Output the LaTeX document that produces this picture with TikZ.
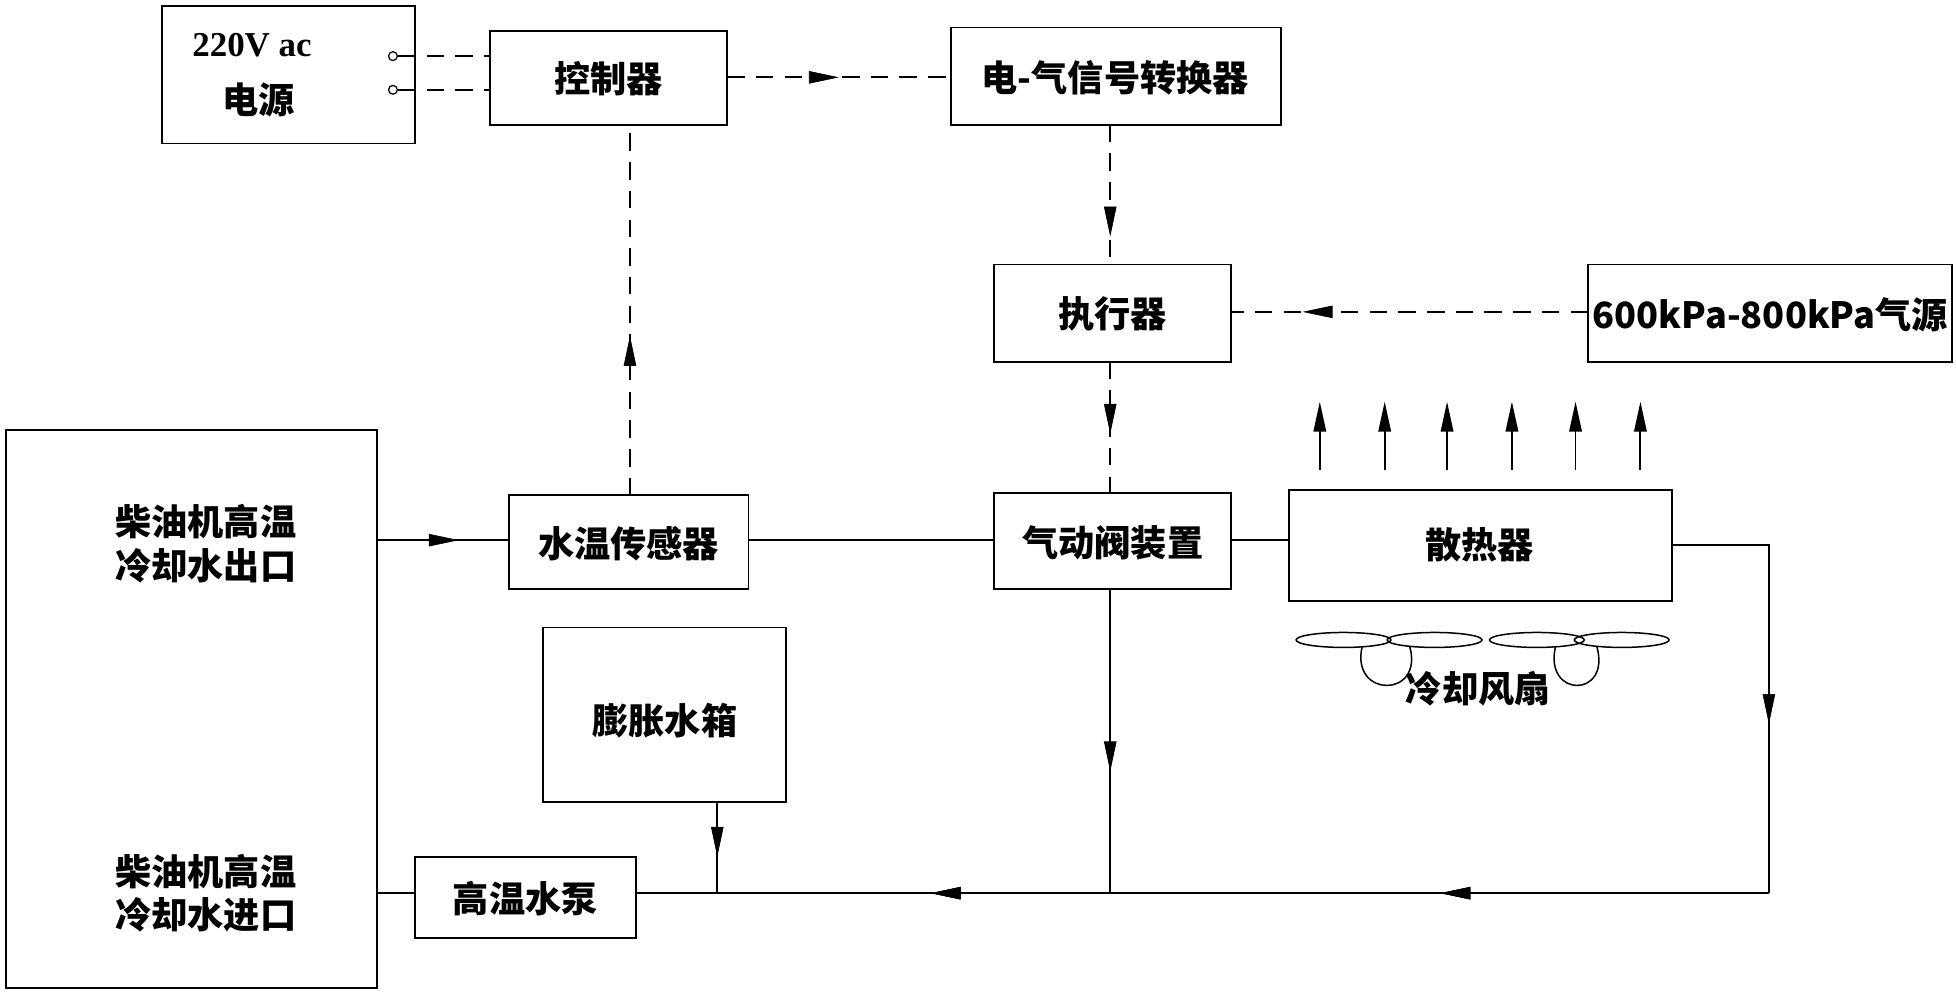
\documentclass[tikz,border=0pt]{standalone}
\usepackage{fontspec}
\setmainfont{Liberation Serif}
\newfontfamily\cjk{Noto Sans CJK SC}
\usetikzlibrary{arrows.meta,decorations.markings}
\begin{document}
\begin{tikzpicture}[x=1pt,y=-1pt,
  bx/.style={draw,line width=1.5pt,inner sep=0pt},
  ln/.style={line width=1.5pt},
  dl/.style={line width=1.5pt,dash pattern=on 14pt off 9pt},
  arrowat/.style={decoration={markings,mark=at position #1 with {\arrow[line width=0.5pt]{Triangle[length=24pt,width=10pt]}}},postaction=decorate},
  txt/.style={font=\cjk\bfseries\fontsize{29}{35}\selectfont}]
\useasboundingbox (0,0) rectangle (1568,797);
% boxes
\draw[bx] (130,5) rectangle (333,115);
\node[font=\bfseries\fontsize{28}{32}\selectfont] (v) at (202,36) {220V ac};
\node[txt] (ps) at (207,80) {电源};
\node[draw,circle,inner sep=2.5pt,line width=1pt] (c1) at (315,45) {};
\node[draw,circle,inner sep=2.5pt,line width=1pt] (c2) at (315,72) {};
\draw[bx] (393,25) rectangle (583,100); \node[txt] (ctl) at (488,63) {控制器};
\coordinate (ctlL1) at (393,45); \coordinate (ctlL2) at (393,72);
\draw[bx] (762,22) rectangle (1027,100); \node[txt] (cv) at (894,62) {电-气信号转换器};
\draw[bx] (797,212) rectangle (987,290); \node[txt] (act) at (892,252) {执行器};
\draw[bx] (1273,212) rectangle (1565,290); \node[txt] (air) at (1419,252) {600kPa-800kPa气源};
\draw[bx] (797,395) rectangle (987,472); \node[txt] (vlv) at (892,435) {气动阀装置};
\draw[bx] (1033,393) rectangle (1340,482); \node[txt] (rad) at (1186,437) {散热器};
\draw[bx] (5,345) rectangle (302,792);
\node[txt,align=center] (out) at (165,436) {柴油机高温\\冷却水出口};
\node[txt,align=center] (in) at (165,716) {柴油机高温\\冷却水进口};
\draw[bx] (408,397) rectangle (600,472); \node[txt] (sen) at (504,436) {水温传感器};
\draw[bx] (435,503) rectangle (630,643); \node[txt] (tank) at (533,578) {膨胀水箱};
\draw[bx] (333,687) rectangle (510,752); \node[txt] (pump) at (421,720) {高温水泵};
% dashed signals
\draw[dl] (c1) -- (ctlL1);
\draw[dl] (c2) -- (ctlL2);
\draw[dl,arrowat=0.5] (583,62) -- (762,62);
\draw[dl,arrowat=0.8] (890,100) -- (890,212);
\draw[dl,arrowat=0.8] (1273,250) -- (987,250);
\draw[dl,arrowat=0.55] (890,290) -- (890,395);
\draw[dl,arrowat=0.43] (505,397) -- (505,100);
% water lines
\draw[ln,arrowat=0.62] (302,433) -- (408,433);
\draw[ln] (600,433) -- (797,433);
\draw[ln] (987,433) -- (1033,433);
\draw[ln,arrowat=0.62] (1340,437) -- (1418,437) -- (1418,716);
\draw[ln,arrowat=0.29,arrowat=0.74] (1418,716) -- (510,716);
\draw[ln,arrowat=0.6] (890,472) -- (890,716);
\draw[ln,arrowat=0.6] (575,643) -- (575,716);
\draw[ln] (333,716) -- (302,716);
% up arrows
\foreach \x in {1058,1110,1160,1212,1263,1315}
  \draw[ln,-{Triangle[length=24pt,width=10pt]}] (\x,377) -- (\x,322);
% fans
\foreach \a/\b in {1077/1150,1232/1300}{
  \draw[line width=1.2pt] (\a,513) ellipse (38 and 6);
  \draw[line width=1.2pt] (\b,513) ellipse (38 and 6);
  \draw[line width=1.2pt] (\a+15,518) .. controls (\a+5,560) and (\b-8,560) .. (\b-20,518);
}
\node[txt] (fan) at (1185,552) {冷却风扇};
\end{tikzpicture}
\end{document}
